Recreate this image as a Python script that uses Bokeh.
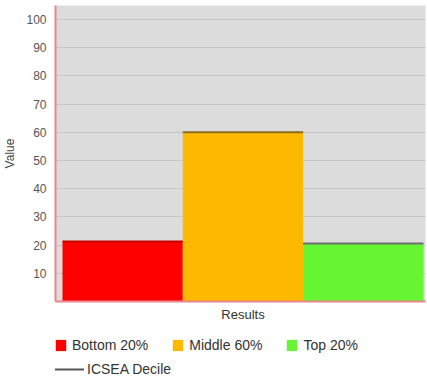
import math
from bokeh.plotting import figure
from bokeh.layouts import column
from bokeh.models import Range1d, FixedTicker, Legend, LegendItem, ColumnDataSource
from bokeh.embed import file_html
from bokeh.resources import INLINE

# data
series = ["Bottom 20%", "Middle 60%", "Top 20%"]
values = [21.3, 60.0, 20.6]
colors = ["#ff0000", "#ffba00", "#66f532"]
top_colors = ["#c40000", "#8c6a1e", "#6e6e6e"]
category = "Results"
y_ticks = [10, 20, 30, 40, 50, 60, 70, 80, 90, 100]
line_series = "ICSEA Decile"
line_color = "#555555"

p = figure(width=427, height=324, output_backend="svg", toolbar_location=None,
           x_range=Range1d(-0.058, 3.017), y_range=Range1d(0, 105),
           min_border_left=53, min_border_right=2, min_border_top=5, min_border_bottom=23)

xs = [i + 0.5 for i in range(len(series))]
src = ColumnDataSource(dict(x=xs, top=values, color=colors, tc=top_colors,
                            x0=[x - 0.5 for x in xs], x1=[x + 0.5 for x in xs]))

p.vbar(x="x", top="top", width=1.0, bottom=0, fill_color="color", line_color=None, source=src)
p.segment(x0="x0", x1="x1", y0="top", y1="top", line_color="tc", line_width=2, source=src)

p.background_fill_color = "#dcdcdc"
p.border_fill_color = "white"
p.outline_line_color = None

p.ygrid.ticker = FixedTicker(ticks=y_ticks)
p.ygrid.grid_line_color = "#c6c6c6"
p.xgrid.grid_line_color = None

ya = p.yaxis[0]
ya.ticker = FixedTicker(ticks=y_ticks)
ya.axis_label = "Value"
ya.axis_label_text_font = "Liberation Sans"
ya.axis_label_text_font_size = "12px"
ya.axis_label_text_font_style = "normal"
ya.axis_label_text_color = "#444444"
ya.axis_label_standoff = 6
ya.major_label_text_font = "Liberation Sans"
ya.major_label_text_font_size = "12px"
ya.major_label_text_color = "#555555"
ya.major_label_standoff = 3
ya.major_tick_line_color = None
ya.minor_tick_line_color = None
ya.axis_line_color = "#e8868e"
ya.axis_line_width = 2

xa = p.xaxis[0]
xa.ticker = FixedTicker(ticks=[sum(xs) / len(xs)])
xa.major_label_overrides = {sum(xs) / len(xs): category}
xa.major_label_text_font = "Liberation Sans"
xa.major_label_text_font_size = "13px"
xa.major_label_text_color = "#333333"
xa.major_label_standoff = 5
xa.major_tick_line_color = None
xa.minor_tick_line_color = None
xa.major_tick_out = 0
xa.major_tick_in = 0
xa.axis_line_color = "#e8868e"
xa.axis_line_width = 2

# legend strip below the chart
p2 = figure(width=427, height=53, output_backend="svg", toolbar_location=None,
            x_range=Range1d(0, 1), y_range=Range1d(0, 1), min_border=0)
p2.axis.visible = False
p2.grid.visible = False
p2.outline_line_color = None
nan = math.nan
bar_rs = [p2.vbar(x=[nan], top=[nan], width=1.0, fill_color=c, line_color=None) for c in colors]
line_r = p2.line(x=[nan, nan], y=[nan, nan], line_color=line_color, line_width=2)

leg1 = Legend(items=[LegendItem(label=s, renderers=[r]) for s, r in zip(series, bar_rs)],
              orientation="horizontal", location=(-1, 24), spacing=23, label_standoff=5,
              glyph_width=13, glyph_height=14, padding=0, margin=0,
              border_line_color=None, background_fill_alpha=0,
              label_text_font="Liberation Sans", label_text_font_size="14px",
              label_text_color="#333333", label_height=14)
leg2 = Legend(items=[LegendItem(label=line_series, renderers=[line_r])],
              orientation="horizontal", location=(-1, 0), spacing=0, label_standoff=3,
              glyph_width=30, glyph_height=14, padding=0, margin=0,
              border_line_color=None, background_fill_alpha=0,
              label_text_font="Liberation Sans", label_text_font_size="14px",
              label_text_color="#333333", label_height=14)
p2.add_layout(leg1, "center")
p2.add_layout(leg2, "center")

layout = column(p, p2, spacing=0)
open("out.html", "w").write(file_html(layout, INLINE))
